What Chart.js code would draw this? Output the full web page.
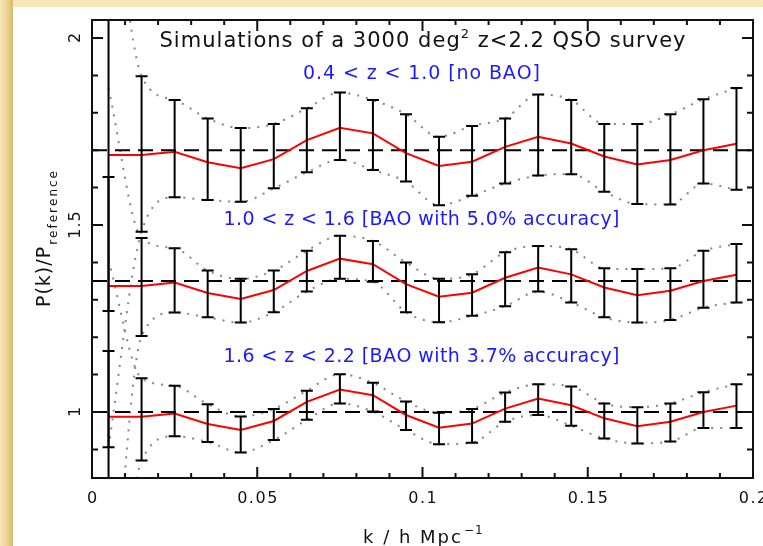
<!DOCTYPE html>
<html>
<head>
<meta charset="utf-8">
<script src="https://cdn.jsdelivr.net/npm/chart.js@4.4.1/dist/chart.umd.min.js"></script>
<style>
html, body { margin: 0; padding: 0; }
body { width: 763px; height: 546px; position: relative; overflow: hidden;
  background: linear-gradient(to bottom, #f6e8bc, #efdca2); }
#edge { position: absolute; left: 0; top: 0; width: 13px; height: 546px;
  background: linear-gradient(to right, #f5e6b6, #e8cf8e 60%, #d8b96f); }
#panel { position: absolute; left: 13px; top: 7px; width: 750px; height: 539px; background: #fff; }
canvas { display: block; }
</style>
</head>
<body>
<div id="edge"></div>
<div id="panel"><canvas id="myChart" width="750" height="539"></canvas></div>
<script>
// k bins (h/Mpc)
const kValues = [0.005, 0.015, 0.025, 0.035, 0.045, 0.055, 0.065, 0.075, 0.085, 0.095,
                 0.105, 0.115, 0.125, 0.135, 0.145, 0.155, 0.165, 0.175, 0.185, 0.195];

// 0.4 < z < 1.0 (shifted to 1.7)
const lowZRatio = [1.687, 1.687, 1.696, 1.668, 1.652, 1.676, 1.727, 1.760, 1.745, 1.692,
                   1.658, 1.669, 1.709, 1.736, 1.718, 1.683, 1.662, 1.674, 1.700, 1.717];
const lowZHigh  = [2.600, 1.898, 1.834, 1.785, 1.759, 1.770, 1.812, 1.854, 1.834, 1.796,
                   1.736, 1.765, 1.785, 1.849, 1.834, 1.770, 1.770, 1.796, 1.836, 1.866];
const lowZLow   = [0.500, 1.482, 1.574, 1.567, 1.562, 1.598, 1.641, 1.674, 1.647, 1.616,
                   1.553, 1.578, 1.611, 1.632, 1.636, 1.589, 1.556, 1.555, 1.611, 1.594];

// 1.0 < z < 1.6 (shifted to 1.35)
const midZRatio = [1.337, 1.337, 1.346, 1.318, 1.302, 1.326, 1.377, 1.410, 1.395, 1.342,
                   1.308, 1.319, 1.359, 1.386, 1.368, 1.333, 1.312, 1.324, 1.350, 1.367];
const midZHigh  = [1.628, 1.465, 1.438, 1.378, 1.356, 1.378, 1.431, 1.471, 1.457, 1.400,
                   1.356, 1.368, 1.427, 1.444, 1.435, 1.384, 1.382, 1.384, 1.431, 1.449];
const midZLow   = [1.270, 1.203, 1.266, 1.253, 1.239, 1.267, 1.322, 1.356, 1.348, 1.267,
                   1.240, 1.257, 1.283, 1.322, 1.293, 1.253, 1.239, 1.246, 1.279, 1.293];

// 1.6 < z < 2.2
const highZRatio = [0.987, 0.987, 0.996, 0.968, 0.952, 0.976, 1.027, 1.060, 1.045, 0.992,
                    0.958, 0.969, 1.009, 1.036, 1.018, 0.983, 0.962, 0.974, 1.000, 1.017];
const highZHigh  = [1.163, 1.090, 1.070, 1.021, 0.988, 1.008, 1.057, 1.101, 1.078, 1.028,
                    0.998, 1.008, 1.052, 1.074, 1.068, 1.023, 1.013, 1.023, 1.053, 1.074];
const highZLow   = [0.906, 0.870, 0.935, 0.920, 0.892, 0.925, 0.979, 1.023, 1.001, 0.952,
                    0.914, 0.918, 0.974, 0.992, 0.963, 0.929, 0.916, 0.921, 0.957, 0.957];

// dotted envelopes at the first k (after that they follow the bar ends)
const lowZEnvStart  = [2.50, 0.906];
const midZEnvStart  = [1.866, 0.30];
const highZEnvStart = [1.406, 0.20];

const baseLines = [1.7, 1.35, 1.0];

const xTickValues = [0, 0.05, 0.1, 0.15, 0.2];
const xTickLabels = ['0', '0.05', '0.1', '0.15', '0.2'];
const yTickValues = [1, 1.5, 2];
const yTickLabels = ['1', '1.5', '2'];

const FONT = '"DejaVu Sans", sans-serif';

function pts(ys) {
  return kValues.map((k, i) => ({x: k, y: ys[i]}));
}
function envelope(first, ends) {
  return pts([first].concat(ends.slice(1)));
}

const datasets = [];
[lowZRatio, midZRatio, highZRatio].forEach(r => {
  datasets.push({data: pts(r), borderColor: 'rgb(255,0,0)', borderWidth: 2, pointRadius: 0,
                 tension: 0, fill: false, order: 1});
});
baseLines.forEach(b => {
  datasets.push({data: [{x: 0, y: b}, {x: 0.2, y: b}], borderColor: '#000', borderWidth: 2,
                 borderDash: [15, 8], pointRadius: 0, fill: false, order: 2});
});
[[lowZEnvStart, lowZHigh, lowZLow], [midZEnvStart, midZHigh, midZLow], [highZEnvStart, highZHigh, highZLow]]
  .forEach(([st, hi, lo]) => {
    [envelope(st[0], hi), envelope(st[1], lo)].forEach(d => {
      datasets.push({data: d, borderColor: '#858585', borderWidth: 2, borderDash: [2, 7],
                     pointRadius: 0, cubicInterpolationMode: 'monotone', fill: false, order: 3});
    });
  });

// draw string char by char with extra spacing, returns end x
function spaced(ctx, str, x, y, sp) {
  for (const ch of str) {
    ctx.fillText(ch, x, y);
    x += ctx.measureText(ch).width + sp;
  }
  return x;
}
function spacedWidth(ctx, str, sp) {
  let w = 0;
  for (const ch of str) w += ctx.measureText(ch).width + sp;
  return w - sp;
}
function fitSpacing(ctx, str, target) {
  const n = [...str].length;
  return (target - spacedWidth(ctx, str, 0)) / (n - 1);
}

const errorBars = {
  id: 'errorBars',
  afterDatasetsDraw(chart) {
    const {ctx, chartArea, scales: {x, y}} = chart;
    ctx.save();
    ctx.beginPath();
    ctx.rect(chartArea.left, chartArea.top, chartArea.width, chartArea.height);
    ctx.clip();
    ctx.strokeStyle = '#000';
    ctx.lineWidth = 2;
    [[lowZLow, lowZHigh], [midZLow, midZHigh], [highZLow, highZHigh]].forEach(([lo, hi]) => {
      kValues.forEach((k, i) => {
        const px = x.getPixelForValue(k);
        const y1 = y.getPixelForValue(lo[i]);
        const y2 = y.getPixelForValue(hi[i]);
        ctx.beginPath();
        ctx.moveTo(px, y1); ctx.lineTo(px, y2);
        ctx.moveTo(px - 6, y1); ctx.lineTo(px + 6, y1);
        ctx.moveTo(px - 6, y2); ctx.lineTo(px + 6, y2);
        ctx.stroke();
      });
    });
    ctx.restore();
  }
};

const frame = {
  id: 'frame',
  afterDraw(chart) {
    const {ctx, chartArea: a, scales: {x, y}} = chart;
    ctx.save();
    ctx.strokeStyle = '#111';
    ctx.lineWidth = 2;
    ctx.strokeRect(a.left, a.top, a.right - a.left, a.bottom - a.top);

    // inward ticks
    ctx.beginPath();
    for (let i = 0; i <= 20; i++) {
      const px = x.getPixelForValue(i / 100);
      const len = (i % 5 === 0) ? 11 : 5;
      ctx.moveTo(px, a.bottom); ctx.lineTo(px, a.bottom - len);
      ctx.moveTo(px, a.top); ctx.lineTo(px, a.top + len);
    }
    for (let i = 9; i <= 20; i++) {
      const py = y.getPixelForValue(i / 10);
      const len = (i % 5 === 0) ? 11 : 6;
      ctx.moveTo(a.left, py); ctx.lineTo(a.left + len, py);
      ctx.moveTo(a.right, py); ctx.lineTo(a.right - len, py);
    }
    ctx.stroke();

    ctx.fillStyle = '#111';
    ctx.textBaseline = 'alphabetic';

    // x tick labels
    ctx.font = '16px ' + FONT;
    xTickValues.forEach((v, i) => {
      const w = spacedWidth(ctx, xTickLabels[i], 1.5);
      spaced(ctx, xTickLabels[i], x.getPixelForValue(v) - w / 2, a.bottom + 25, 1.5);
    });

    // y tick labels (rotated)
    yTickValues.forEach((v, i) => {
      ctx.save();
      ctx.translate(a.left - 12, y.getPixelForValue(v));
      ctx.rotate(-Math.PI / 2);
      const w = spacedWidth(ctx, yTickLabels[i], 1);
      spaced(ctx, yTickLabels[i], -w / 2, 0, 1);
      ctx.restore();
    });

    // x axis title
    ctx.font = '18px ' + FONT;
    let sx = spaced(ctx, 'k / h Mpc', a.left + 271, a.bottom + 65, 2);
    ctx.font = '12px ' + FONT;
    spaced(ctx, '\u22121', sx + 1, a.bottom + 56, 1);

    // y axis title (rotated)
    ctx.save();
    ctx.translate(a.left - 42, a.top + 287);
    ctx.rotate(-Math.PI / 2);
    ctx.font = '19px ' + FONT;
    let sy = spaced(ctx, 'P(k)/P', 0, 0, 1);
    ctx.font = '12px ' + FONT;
    spaced(ctx, 'reference', sy + 1, 7, 2);
    ctx.restore();

    // title with superscript
    const cx = x.getPixelForValue(0.1);
    ctx.font = '21px ' + FONT;
    const p1 = 'Simulations of a 3000 deg', p3 = ' z<2.2 QSO survey';
    const nat1 = spacedWidth(ctx, p1, 0), nat3 = spacedWidth(ctx, p3, 0);
    ctx.font = '13px ' + FONT;
    const nat2 = ctx.measureText('2').width;
    const sp = (526 - nat1 - nat2 - nat3) / ([...p1].length + [...p3].length);
    let tx = cx - 263;
    ctx.font = '21px ' + FONT;
    tx = spaced(ctx, p1, tx, a.top + 27, sp);
    ctx.font = '13px ' + FONT;
    tx = spaced(ctx, '2', tx, a.top + 18, sp);
    ctx.font = '21px ' + FONT;
    spaced(ctx, p3, tx, a.top + 27, sp);

    // blue labels
    ctx.fillStyle = '#1a1aff';
    ctx.font = '19px ' + FONT;
    [['0.4 < z < 1.0 [no BAO]', 1.890, 237],
     ['1.0 < z < 1.6 [BAO with 5.0% accuracy]', 1.500, 396],
     ['1.6 < z < 2.2 [BAO with 3.7% accuracy]', 1.134, 396]].forEach(([s, v, w]) => {
      const spc = fitSpacing(ctx, s, w);
      spaced(ctx, s, cx - w / 2 - 1, y.getPixelForValue(v), spc);
    });
    ctx.restore();
  }
};

const ctx = document.getElementById('myChart');
new Chart(ctx, {
  type: 'line',
  data: { datasets: datasets },
  options: {
    responsive: false,
    animation: false,
    layout: { padding: { left: 79, right: 10, top: 13, bottom: 68 } },
    scales: {
      x: { type: 'linear', min: 0, max: 0.2, display: false },
      y: { type: 'linear', min: 0.8235, max: 2.0481, display: false }
    },
    plugins: {
      legend: { display: false },
      tooltip: { enabled: false }
    }
  },
  plugins: [errorBars, frame]
});
</script>
</body>
</html>
